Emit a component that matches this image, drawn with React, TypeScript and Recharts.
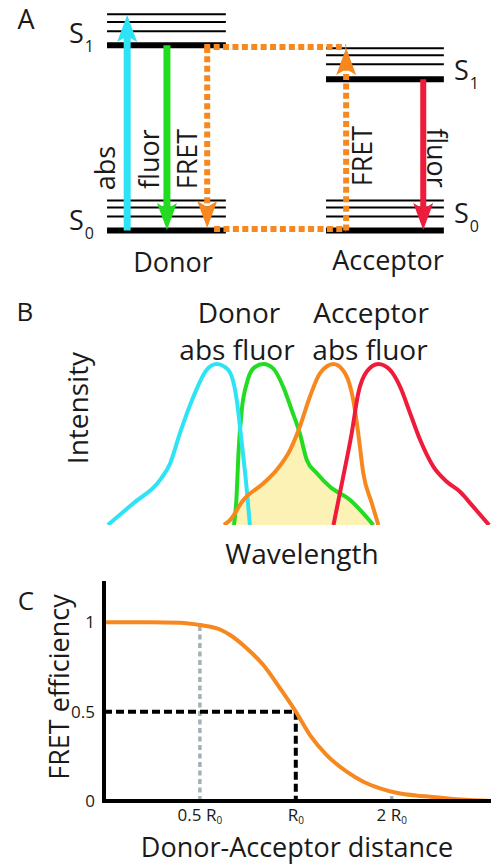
import React from 'react';
import { ComposedChart, Line, Area, XAxis, YAxis } from 'recharts';

const FONT = '"Open Sans", "Noto Sans", sans-serif';
const INK = '#1a1a1a';

const CYAN = '#2de3f5';
const GREEN = '#22dc22';
const ORANGE = '#f7881f';
const RED = '#ee1c3a';
const GREY = '#a2b1b4';
const OVERLAP = '#fdf2b6';

// ---- A: Jablonski diagram, energy relative to donor S1 = 1 ----
const donorRange = [21.8, 46.0];
const acceptorRange = [66.4, 90.4];
const donorMain = [0, 1];
const acceptorMain = [0, 0.816];
const donorVib = [0.076, 0.124, 0.162, 1.076, 1.126, 1.168];
const acceptorVib = [0.076, 0.124, 0.162, 0.897, 0.946, 0.984];

// arrows: shaft start -> where the head begins
const absArrow = [{ x: 25.9, e: 0 }, { x: 25.9, e: 1.05 }];
const donorFluorArrow = [{ x: 34.0, e: 1 }, { x: 34.0, e: 0.116 }];
const donorFretArrow = [{ x: 42.2, e: 0.991 }, { x: 42.2, e: 0.127 }];
const acceptorFretArrow = [{ x: 70.5, e: 0 }, { x: 70.5, e: 0.872 }];
const acceptorFluorArrow = [{ x: 86.2, e: 0.816 }, { x: 86.2, e: 0.116 }];
const fretTop = [{ x: 41.6, e: 0.991 }, { x: 70.5, e: 0.991 }];
const fretBottom = [{ x: 43.6, e: 0.008 }, { x: 70.5, e: 0.008 }];

// ---- B: spectra (arbitrary wavelength units 0-100) ----
const donorAbsX = [1, 7.6, 14.5, 17.1, 19.6, 23.1, 26.5, 29.1, 32.1, 34.3, 35.6, 36.9, 37.7];
const donorAbsY = [0, 9.5, 19.7, 26.9, 40, 56, 67.7, 70.3, 67.7, 54.6, 35.8, 15.3, 0];
const donorFluorX = [33.6, 34.2, 34.8, 35.6, 36.9, 38.6, 41.2, 43.7, 46.3, 48.5, 50.6, 52.4, 55, 58.4, 63.6, 69.6];
const donorFluorY = [0, 10.9, 32.8, 50.2, 61.9, 68.4, 70.3, 68.4, 60.4, 50.2, 40, 28.4, 22.6, 16.7, 10.9, 0];
const accAbsX = [31, 32.6, 36, 41.2, 44.6, 48.1, 50.6, 53.2, 55.8, 59.3, 62.3, 64.4, 65.7, 67, 69.2, 70.9];
const accAbsY = [0, 2.2, 10.9, 18.2, 24, 32.8, 42.9, 56, 66.2, 70.3, 66.2, 54.6, 40, 22.6, 9.5, 0];
const accFluorX = [59.3, 61.8, 64, 65.7, 67.9, 70.9, 73.9, 76.5, 79.1, 81.7, 85.1, 88.6, 92, 95.4, 99.5];
const accFluorY = [0, 21, 40, 57.5, 67, 70.3, 67.7, 60.4, 48.8, 37.1, 25.5, 18.9, 14.5, 8, 0];
const overlapX = [32.6, 36, 41.2, 44.6, 48.1, 50.5, 52.4, 55, 58.4, 63.6, 69.6];
const overlapY = [2.2, 10.9, 18.2, 24, 32.8, 41.5, 28.4, 22.6, 16.7, 10.9, 0];

// ---- C: FRET efficiency vs distance (units of R0) ----
const distance = [0.25, 0.35, 0.433, 0.5, 0.578, 0.622, 0.701, 0.791, 0.892, 1, 1.108, 1.25, 1.445, 1.629, 1.838, 2.07, 2.4, 2.64, 3.28, 4.1];
const efficiency = [1, 1, 0.998, 0.985, 0.96, 0.929, 0.855, 0.761, 0.631, 0.5, 0.369, 0.257, 0.164, 0.108, 0.071, 0.046, 0.03, 0.024, 0.008, 0];
const distTicks = [0.5, 1, 2];
const distTickPrefix = ['0.5 ', '', '2 '];
const effTicks = [0, 0.5, 1];
const halfR0Top = 0.985;
const twoR0Top = 0.05;

const toPoints = (xs: number[], ys: number[]) => xs.map((x, i) => ({ x, y: ys[i] }));
const levelSeg = (range: number[], e: number) => [{ x: range[0], e }, { x: range[1], e }];

const arrowHead = (color: string, up: boolean) => (p: any) => {
  if (p.index !== 1) return <g key={`s-${p.index}`} />;
  const { cx, cy } = p;
  const s = up ? -1 : 1;
  const L = 21, w = 10, n = 6;
  const d = `M${cx},${cy + s * L} L${cx + w},${cy - s * n} L${cx},${cy} L${cx - w},${cy - s * n} Z`;
  return <path key="head" d={d} fill={color} />;
};

function Txt({ x, y, size = 28, rotate = 0, children }: any) {
  return (
    <div
      style={{
        position: 'absolute', left: x, top: y,
        transform: `translate(-50%, -50%) rotate(${rotate}deg)`,
        fontSize: size, lineHeight: 1, whiteSpace: 'nowrap', fontFamily: FONT, color: INK,
      }}
    >
      {children}
    </div>
  );
}

function StateLabel({ x, y, sub }: any) {
  return (
    <div
      style={{
        position: 'absolute', left: x, top: y - 14, fontSize: 27, lineHeight: '27px',
        fontFamily: FONT, color: INK, whiteSpace: 'nowrap',
      }}
    >
      S<span style={{ fontSize: 16, position: 'relative', top: 9, marginLeft: 1 }}>{sub}</span>
    </div>
  );
}

function DistTick({ x, y, payload }: any) {
  const i = distTicks.indexOf(payload.value);
  return (
    <text x={x} y={y + 18} textAnchor="middle" fontSize={17} fontFamily={FONT} fill={INK}>
      {distTickPrefix[i]}R<tspan fontSize={10} dy={3}>0</tspan>
    </text>
  );
}

function PanelA() {
  const level = (range: number[], e: number, w: number, k: string) => (
    <Line key={k} data={levelSeg(range, e)} dataKey="e" stroke="#000" strokeWidth={w}
      dot={false} activeDot={false} isAnimationActive={false} />
  );
  const arrow = (data: any[], color: string, up: boolean, dashed: boolean, w: number, k: string) => (
    <Line key={k} data={data} dataKey="e" stroke={color} strokeWidth={w}
      strokeDasharray={dashed ? '6 3.4' : undefined}
      dot={arrowHead(color, up)} activeDot={false} isAnimationActive={false} />
  );
  return (
    <div style={{ position: 'absolute', left: 0, top: -1 }}>
      <ComposedChart width={491} height={287} margin={{ top: 0, right: 0, bottom: 0, left: 0 }}>
        <XAxis type="number" dataKey="x" domain={[0, 100]} hide allowDataOverflow />
        <YAxis type="number" domain={[-0.3, 1.25]} hide allowDataOverflow />
        {donorVib.map((e, i) => level(donorRange, e, 2, `dv${i}`))}
        {acceptorVib.map((e, i) => level(acceptorRange, e, 2, `av${i}`))}
        {donorMain.map((e, i) => level(donorRange, e, 6, `dm${i}`))}
        {acceptorMain.map((e, i) => level(acceptorRange, e, 6, `am${i}`))}
        <Line data={fretTop} dataKey="e" stroke={ORANGE} strokeWidth={6} strokeDasharray="6 3.4"
          dot={false} activeDot={false} isAnimationActive={false} />
        <Line data={fretBottom} dataKey="e" stroke={ORANGE} strokeWidth={6} strokeDasharray="6 3.4"
          dot={false} activeDot={false} isAnimationActive={false} />
        {arrow(absArrow, CYAN, true, false, 7, 'abs')}
        {arrow(donorFluorArrow, GREEN, false, false, 7, 'dfl')}
        {arrow(donorFretArrow, ORANGE, false, true, 6, 'dfr')}
        {arrow(acceptorFretArrow, ORANGE, true, true, 6, 'afr')}
        {arrow(acceptorFluorArrow, RED, false, false, 6, 'afl')}
      </ComposedChart>
    </div>
  );
}

function PanelB() {
  const curve = (xs: number[], ys: number[], color: string, k: string) => (
    <Line key={k} data={toPoints(xs, ys)} dataKey="y" type="monotone" stroke={color} strokeWidth={4}
      dot={false} activeDot={false} isAnimationActive={false} />
  );
  return (
    <div style={{ position: 'absolute', left: 0, top: 290 }}>
      <ComposedChart width={491} height={240} margin={{ top: 6, right: 0, bottom: 5, left: 104 }}>
        <XAxis type="number" dataKey="x" domain={[0, 100]} allowDataOverflow height={0} tick={false}
          tickLine={false} axisLine={{ stroke: '#000', strokeWidth: 4, strokeLinecap: 'square' }} />
        <YAxis type="number" domain={[0, 100]} allowDataOverflow width={0} tick={false}
          tickLine={false} axisLine={{ stroke: '#000', strokeWidth: 4, strokeLinecap: 'square' }} />
        <Area data={toPoints(overlapX, overlapY)} dataKey="y" type="monotone" fill={OVERLAP}
          fillOpacity={1} stroke="none" isAnimationActive={false} activeDot={false} />
        {curve(donorFluorX, donorFluorY, GREEN, 'g')}
        {curve(donorAbsX, donorAbsY, CYAN, 'c')}
        {curve(accAbsX, accAbsY, ORANGE, 'o')}
        {curve(accFluorX, accFluorY, RED, 'r')}
      </ComposedChart>
    </div>
  );
}

function PanelC() {
  const curveData = distance.map((r, i) => ({ r, e: efficiency[i] }));
  const guide = (data: any[], color: string, w: number, dash: string, k: string) => (
    <Line key={k} data={data} dataKey="e" stroke={color} strokeWidth={w} strokeDasharray={dash}
      dot={false} activeDot={false} isAnimationActive={false} />
  );
  return (
    <div style={{ position: 'absolute', left: 0, top: 580 }}>
      <ComposedChart width={491} height={265} margin={{ top: 3, right: 0, bottom: 4, left: 0 }}>
        <XAxis type="number" dataKey="r" scale="log" domain={[0.25, 4.1]} allowDataOverflow height={40}
          ticks={distTicks} interval={0} tick={<DistTick />} tickLine={false} tickSize={0}
          axisLine={{ stroke: '#000', strokeWidth: 4, strokeLinecap: 'square' }} />
        <YAxis type="number" domain={[0, 1.22]} allowDataOverflow width={104} ticks={effTicks}
          interval={0} tickLine={false} tickSize={0} tickMargin={9}
          tick={{ fontSize: 17, fill: INK, fontFamily: FONT }}
          axisLine={{ stroke: '#000', strokeWidth: 4, strokeLinecap: 'square' }} />
        {guide([{ r: 0.5, e: 0 }, { r: 0.5, e: halfR0Top }], GREY, 3.5, '5 3.5', 'g1')}
        {guide([{ r: 2, e: 0 }, { r: 2, e: twoR0Top }], GREY, 3.5, '5 3.5', 'g2')}
        {guide([{ r: 0.25, e: 0.5 }, { r: 1, e: 0.5 }], '#000', 4, '8 4', 'h')}
        {guide([{ r: 1, e: 0.5 }, { r: 1, e: 0 }], '#000', 4, '8 4', 'v')}
        <Line data={curveData} dataKey="e" type="monotone" stroke={ORANGE} strokeWidth={4}
          dot={false} activeDot={false} isAnimationActive={false} />
      </ComposedChart>
    </div>
  );
}

export default function App() {
  return (
    <div style={{ position: 'absolute', left: 0, top: 0, width: 491, height: 865, background: '#fff', overflow: 'hidden' }}>
      <PanelA />
      <Txt x={26} y={18} size={27}>A</Txt>
      <StateLabel x={69} y={32.5} sub="1" />
      <StateLabel x={69} y={220} sub="0" />
      <StateLabel x={454} y={70} sub="1" />
      <StateLabel x={454} y={213} sub="0" />
      <Txt x={104} y={168} size={27} rotate={-90}>abs</Txt>
      <Txt x={148} y={159} size={27} rotate={-90}>fluor</Txt>
      <Txt x={186} y={159} size={27} rotate={-90}>FRET</Txt>
      <Txt x={361} y={156} size={27} rotate={-90}>FRET</Txt>
      <Txt x={437} y={158} size={27} rotate={90}>fluor</Txt>
      <Txt x={173} y={261} size={27}>Donor</Txt>
      <Txt x={388} y={259} size={27}>Acceptor</Txt>

      <PanelB />
      <Txt x={25} y={311} size={26}>B</Txt>
      <Txt x={239} y={312}>Donor</Txt>
      <Txt x={237} y={349}>abs fluor</Txt>
      <Txt x={371} y={312}>Acceptor</Txt>
      <Txt x={370} y={349}>abs fluor</Txt>
      <Txt x={77} y={408} rotate={-90}>Intensity</Txt>
      <Txt x={302} y={553}>Wavelength</Txt>

      <PanelC />
      <Txt x={26} y={600} size={26}>C</Txt>
      <Txt x={58} y={687} size={27} rotate={-90}>FRET efficiency</Txt>
      <Txt x={297} y={846} size={27}>Donor-Acceptor distance</Txt>
    </div>
  );
}
